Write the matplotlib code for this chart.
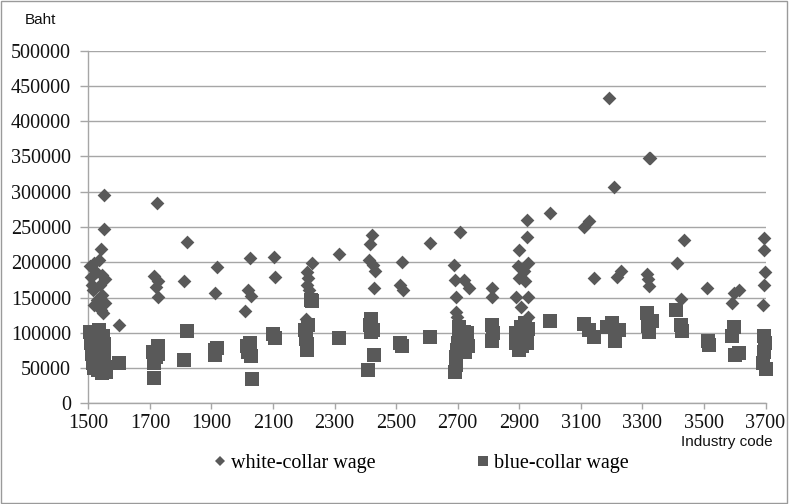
import matplotlib
matplotlib.use("Agg")
import matplotlib.pyplot as plt
from matplotlib.lines import Line2D
from matplotlib.patches import Rectangle

# ---- data (industry code, wage in Baht) ----
white_code = [1506, 1510, 1512, 1515, 1517, 1520, 1525, 1528, 1534, 1537, 1540, 1541, 1544, 1546, 1548, 1550, 1550, 1555, 1553, 1599,
              1715, 1722, 1725, 1720, 1727, 1810, 1821, 1913, 1918, 2010, 2020, 2026, 2030, 2102, 2105,
              2208, 2210, 2212, 2215, 2218, 2227, 2314, 2411, 2416, 2422, 2425, 2433, 2429, 2514, 2519, 2522, 2611,
              2687, 2690, 2693, 2695, 2697, 2709, 2720, 2736, 2812, 2812,
              2890, 2895, 2898, 2900, 2905, 2915, 2920, 2925, 2925, 2928, 2930, 2930, 3001,
              3110, 3125, 3143, 3191, 3207, 3218, 3232, 3316, 3318, 3320, 3321, 3326,
              3413, 3424, 3435, 3511, 3592, 3597, 3613, 3695, 3695, 3697, 3695, 3693]
white_wage = [194000, 179000, 168000, 161000, 139000, 199000, 186000, 147000, 203000, 168000, 132000, 219000, 182000, 154000, 128000, 295000, 247000, 142000, 176000, 111000,
              180000, 284000, 174000, 165000, 151000, 174000, 229000, 156000, 193000, 131000, 161000, 206000, 152000, 207000, 179000,
              119000, 186000, 168000, 178000, 161000, 199000, 212000, 203000, 226000, 239000, 196000, 188000, 163000, 168000, 200000, 161000, 228000,
              196000, 175000, 151000, 130000, 122000, 243000, 175000, 163000, 163000, 151000,
              151000, 194000, 218000, 178000, 137000, 188000, 173000, 260000, 236000, 199000, 151000, 122000, 270000,
              250000, 258000, 178000, 433000, 307000, 179000, 188000, 184000, 176000, 166000, 348000, 348000,
              199000, 148000, 232000, 163000, 142000, 157000, 161000, 234000, 217000, 186000, 168000, 139000]

blue_code = [1505, 1510, 1512, 1515, 1518, 1522, 1525, 1528, 1530, 1535, 1538, 1540, 1542, 1545, 1548, 1550, 1552, 1555, 1558, 1599,
             1710, 1712, 1715, 1720, 1725, 1728, 1810, 1821, 1910, 1913, 1918, 2015, 2020, 2025, 2028, 2032, 2100, 2105,
             2205, 2208, 2210, 2212, 2215, 2222, 2228, 2314, 2410, 2415, 2418, 2420, 2425, 2427, 2512, 2518, 2609,
             2690, 2693, 2695, 2697, 2700, 2703, 2705, 2710, 2715, 2720, 2725, 2731, 2735, 2812, 2815, 2812,
             2888, 2890, 2895, 2900, 2905, 2910, 2915, 2920, 2925, 2930, 3000, 3110, 3125, 3143, 3185, 3200, 3212, 3225,
             3316, 3318, 3330, 3320, 3410, 3425, 3430, 3512, 3515, 3592, 3597, 3600, 3613, 3695, 3697, 3695, 3693, 3700]
blue_wage = [101000, 86000, 70000, 57000, 50000, 94000, 78000, 63000, 47000, 104000, 91000, 73000, 55000, 43000, 96000, 84000, 65000, 52000, 45000, 57000,
             73000, 36000, 57000, 65000, 81000, 70000, 62000, 103000, 75000, 69000, 78000, 81000, 73000, 86000, 67000, 34000, 98000, 92000,
             104000, 91000, 84000, 75000, 111000, 147000, 145000, 93000, 47000, 111000, 119000, 101000, 104000, 68000, 86000, 81000, 94000,
             45000, 55000, 65000, 75000, 86000, 96000, 108000, 81000, 91000, 101000, 73000, 99000, 81000, 111000, 99000, 89000,
             99000, 86000, 91000, 75000, 108000, 81000, 96000, 114000, 86000, 106000, 117000, 113000, 104000, 94000, 108000, 114000, 89000, 104000,
             128000, 109000, 117000, 101000, 132000, 111000, 103000, 88000, 82000, 96000, 108000, 68000, 72000, 96000, 86000, 73000, 57000, 48000]

x_ticks = list(range(1500, 3701, 200))
y_ticks = list(range(0, 500001, 50000))

# ---- figure ----
fig = plt.figure(figsize=(7.89, 5.04), dpi=100)
ax = fig.add_axes([88.3/789, 1 - 403.3/504, (765.5 - 88.3)/789, (403.3 - 50.7)/504])

mcol = '#595959'
ax.scatter(white_code, white_wage, marker='D', s=7**2, color=mcol, linewidths=0, zorder=3, clip_on=False)
ax.scatter(blue_code, blue_wage, marker='s', s=10**2, color=mcol, linewidths=0, zorder=3, clip_on=False)

ax.set_xlim(1500, 3700)
ax.set_ylim(0, 500000)
ax.set_xticks(x_ticks)
ax.set_yticks(y_ticks)
serif = 'Liberation Serif'
ax.set_xticklabels([str(t) for t in x_ticks], fontfamily=serif, fontsize=14.5)
ax.set_yticklabels([str(t) for t in y_ticks], fontfamily=serif, fontsize=14.5)

gcol = '#a6a6a6'
ax.yaxis.grid(True, color=gcol, linewidth=1.0, zorder=0)
ax.set_axisbelow(True)
for s in ['top', 'right']:
    ax.spines[s].set_visible(False)
for s in ['left', 'bottom']:
    ax.spines[s].set_color(gcol)
    ax.spines[s].set_linewidth(1.0)
ax.tick_params(axis='y', direction='out', length=6, width=1, color=gcol, pad=6.5, labelcolor='#111111')
ax.tick_params(axis='x', direction='out', length=4, width=1, color=gcol, pad=4, labelcolor='#111111')

fig.text(40/789, 1 - 20/504, 'Baht', fontfamily='Liberation Sans', fontsize=11, ha='center', va='center', color='#111111')
fig.text(681/789, 1 - 435/504, 'Industry code', fontfamily='Liberation Sans', fontsize=11, ha='left', va='top', color='#111111')

handles = [Line2D([], [], linestyle='none', marker='D', markersize=5, color=mcol, markeredgewidth=0),
           Line2D([], [], linestyle='none', marker='s', markersize=7, color=mcol, markeredgewidth=0)]
fig.legend(handles, ['white-collar wage', 'blue-collar wage'], loc='center', bbox_to_anchor=(421/789, 1 - 463/504),
           ncol=2, frameon=False, prop={'family': serif, 'size': 14.5}, handlelength=0.7, handletextpad=0.2,
           columnspacing=5.0, borderpad=0)

fig.patches.append(Rectangle((0.001, 0.001), 0.997, 0.997, transform=fig.transFigure, fill=False,
                             edgecolor='#9a9a9a', linewidth=1.0))

fig.savefig('out.png', dpi=100)
